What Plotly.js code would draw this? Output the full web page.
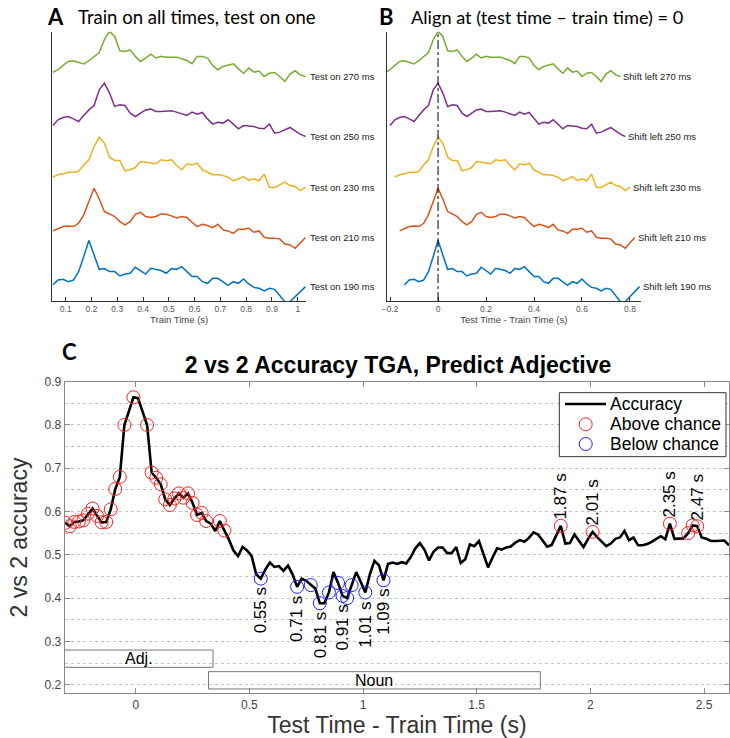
<!DOCTYPE html>
<html><head><meta charset="utf-8">
<script src="https://cdn.plot.ly/plotly-3.0.1.min.js"></script>
<style>html,body{margin:0;padding:0;background:#fff}#chart{width:730px;height:738px}</style>
</head><body><div id="chart"></div>
<script>
// ---------- Panel A / B data ----------
const trainTime = [0.05,0.07,0.09,0.11,0.13,0.15,0.17,0.19,0.21,0.23,0.25,0.27,0.29,0.31,0.33,0.35,0.37,0.39,0.41,0.43,0.45,0.47,0.49,0.51,0.53,0.55,0.57,0.59,0.61,0.63,0.65,0.67,0.69,0.71,0.73,0.75,0.77,0.79,0.81,0.83,0.85,0.87,0.89,0.91,0.93,0.95,0.97,0.99,1.01,1.03];
const testTimesMs = [190, 210, 230, 250, 270];
const acc190 = [.55,.583,.588,.572,.583,.639,.739,.846,.75,.654,.659,.639,.639,.61,.623,.628,.668,.646,.623,.661,.654,.646,.628,.659,.654,.672,.639,.606,.606,.572,.561,.594,.594,.572,.548,.572,.561,.59,.557,.534,.528,.51,.528,.521,.483,.439,.439,.472,.51,.539];
const acc210 = [.55,.563,.579,.583,.579,.601,.657,.746,.834,.763,.679,.663,.646,.612,.59,.612,.661,.674,.646,.639,.646,.663,.661,.65,.637,.646,.639,.608,.579,.594,.586,.572,.594,.557,.55,.534,.561,.561,.568,.541,.55,.508,.501,.501,.497,.463,.457,.434,.468,.506];
const acc230 = [.55,.566,.572,.583,.583,.588,.632,.666,.754,.817,.777,.683,.661,.661,.592,.599,.614,.654,.65,.643,.639,.666,.659,.666,.628,.599,.637,.632,.643,.599,.583,.566,.566,.561,.55,.526,.539,.554,.528,.539,.526,.57,.483,.481,.499,.517,.494,.488,.461,.483];
const acc250 = [.55,.588,.603,.61,.594,.577,.617,.654,.683,.788,.832,.766,.677,.688,.683,.632,.61,.632,.654,.659,.643,.643,.648,.648,.639,.626,.617,.639,.626,.637,.594,.559,.572,.566,.588,.559,.528,.55,.548,.543,.532,.528,.559,.499,.506,.521,.537,.514,.492,.477];
const acc270 = [.55,.568,.597,.623,.628,.617,.606,.628,.657,.683,.768,.823,.79,.694,.69,.701,.657,.623,.646,.672,.646,.657,.652,.652,.652,.641,.63,.608,.657,.657,.646,.597,.568,.59,.597,.608,.574,.545,.579,.552,.559,.523,.545,.55,.523,.49,.539,.561,.534,.523];

// ---------- Panel C data ----------
const diffTime = [-0.31,-0.29,-0.27,-0.25,-0.23,-0.21,-0.19,-0.17,-0.15,-0.13,-0.11,-0.09,-0.07,-0.05,-0.03,-0.01,0.01,0.03,0.05,0.07,0.09,0.11,0.13,0.15,0.17,0.19,0.21,0.23,0.25,0.27,0.29,0.31,0.33,0.35,0.37,0.39,0.41,0.43,0.45,0.47,0.49,0.51,0.53,0.55,0.57,0.59,0.61,0.63,0.65,0.67,0.69,0.71,0.73,0.75,0.77,0.79,0.81,0.83,0.85,0.87,0.89,0.91,0.93,0.95,0.97,0.99,1.01,1.03,1.05,1.07,1.09,1.11,1.13,1.15,1.17,1.19,1.21,1.23,1.25,1.27,1.29,1.31,1.33,1.35,1.37,1.39,1.41,1.43,1.45,1.47,1.49,1.51,1.53,1.55,1.57,1.59,1.61,1.63,1.65,1.67,1.69,1.71,1.73,1.75,1.77,1.79,1.81,1.83,1.85,1.87,1.89,1.91,1.93,1.95,1.97,1.99,2.01,2.03,2.05,2.07,2.09,2.11,2.13,2.15,2.17,2.19,2.21,2.23,2.25,2.27,2.29,2.31,2.33,2.35,2.37,2.39,2.41,2.43,2.45,2.47,2.49,2.51,2.53,2.55,2.57,2.59,2.61];
const accuracy = [0.574,0.566,0.576,0.577,0.58,0.595,0.607,0.59,0.575,0.576,0.605,0.652,0.68,0.80,0.83,0.864,0.862,0.83,0.80,0.69,0.678,0.663,0.628,0.615,0.63,0.642,0.632,0.642,0.62,0.592,0.597,0.578,0.572,0.555,0.578,0.556,0.535,0.51,0.497,0.518,0.51,0.497,0.455,0.445,0.466,0.482,0.472,0.474,0.463,0.475,0.455,0.426,0.445,0.44,0.43,0.422,0.388,0.388,0.413,0.46,0.435,0.405,0.40,0.43,0.46,0.437,0.413,0.455,0.486,0.476,0.441,0.479,0.482,0.479,0.483,0.48,0.495,0.515,0.527,0.512,0.487,0.507,0.517,0.517,0.504,0.504,0.518,0.481,0.49,0.524,0.52,0.532,0.5,0.471,0.494,0.515,0.512,0.517,0.519,0.528,0.534,0.53,0.539,0.552,0.547,0.532,0.519,0.523,0.545,0.567,0.526,0.527,0.547,0.533,0.518,0.537,0.553,0.541,0.53,0.52,0.526,0.537,0.54,0.555,0.534,0.54,0.522,0.522,0.525,0.53,0.537,0.543,0.536,0.572,0.537,0.537,0.538,0.55,0.568,0.566,0.54,0.537,0.532,0.532,0.533,0.533,0.522];
const aboveChanceTimes = [-0.31,-0.29,-0.27,-0.25,-0.23,-0.21,-0.19,-0.17,-0.15,-0.13,-0.11,-0.09,-0.07,-0.05,-0.01,0.05,0.07,0.09,0.11,0.13,0.15,0.17,0.19,0.21,0.23,0.25,0.27,0.29,0.31,0.37,0.39,1.87,2.01,2.35,2.43,2.45,2.47];
const belowChanceTimes = [0.55,0.71,0.77,0.81,0.85,0.89,0.91,0.93,0.95,1.01,1.09];
const aboveLabelTimes = [1.87,2.01,2.35,2.47];
const belowLabelTimes = [0.55,0.71,0.81,0.91,1.01,1.09];
const phaseNames = ['Adj.', 'Noun'];
const phaseStart = [-0.33, 0.32];
const phaseEnd = [0.34, 1.78];
const phaseLow = [0.24, 0.19];
const phaseHigh = [0.28, 0.23];
const legendNames = ['Accuracy', 'Above chance', 'Below chance'];

// ---------- styling ----------
const W = 730, H = 738;
const fx = p => p / W, fy = p => 1 - p / H;
const colors = ['#0072BD', '#D95319', '#EDB120', '#7E2F8E', '#77AC30'];
const series = [acc190, acc210, acc230, acc250, acc270];
const stackOffset = [16, 70, 123.7, 175.3, 228.3];
const stackScale = 150, stackBase = 0.55;
const sans = 'Liberation Sans, Arial, Helvetica, sans-serif';
const cal = 'Lato, Carlito, Calibri, sans-serif';
const redC = '#FF2020', blueC = '#2020FF';

const traces = [];
const annotations = [];
const shapes = [];
series.forEach((vals, i) => {
  const yy = vals.map(v => (v - stackBase) * stackScale + stackOffset[i]);
  const shift = testTimesMs[i] / 1000;
  traces.push({x: trainTime, y: yy, xaxis: 'x', yaxis: 'y', mode: 'lines', showlegend: false,
    line: {color: colors[i], width: 1.5}, hoverinfo: 'skip'});
  const xb = trainTime.map(t => +(t - shift).toFixed(3));
  traces.push({x: xb, y: yy, xaxis: 'x2', yaxis: 'y2', mode: 'lines', showlegend: false,
    line: {color: colors[i], width: 1.5}, hoverinfo: 'skip'});
  annotations.push({xref: 'x', yref: 'y', x: trainTime[trainTime.length - 1], y: yy[yy.length - 1],
    text: 'Test on ' + testTimesMs[i] + ' ms', showarrow: false, xanchor: 'left', xshift: 3,
    font: {family: sans, size: 9.5, color: '#222'}});
  annotations.push({xref: 'x2', yref: 'y2', x: xb[xb.length - 1], y: yy[yy.length - 1],
    text: 'Shift left ' + testTimesMs[i] + ' ms', showarrow: false, xanchor: 'left', xshift: 1,
    font: {family: sans, size: 9.5, color: '#222'}});
});

const pick = list => {
  const xs = [], ys = [];
  list.forEach(t => {
    const k = diffTime.findIndex(d => Math.abs(d - t) < 1e-6);
    if (k >= 0) { xs.push(diffTime[k]); ys.push(accuracy[k]); }
  });
  return {xs, ys};
};
traces.push({x: diffTime, y: accuracy, xaxis: 'x3', yaxis: 'y3', mode: 'lines', name: legendNames[0],
  showlegend: false, line: {color: '#000', width: 2.6}});
const ab = pick(aboveChanceTimes), be = pick(belowChanceTimes);
traces.push({x: ab.xs, y: ab.ys, xaxis: 'x3', yaxis: 'y3', mode: 'markers', name: legendNames[1],
  showlegend: false, marker: {symbol: 'circle-open', size: 13, color: redC, line: {width: 1}}});
traces.push({x: be.xs, y: be.ys, xaxis: 'x3', yaxis: 'y3', mode: 'markers', name: legendNames[2],
  showlegend: false, marker: {symbol: 'circle-open', size: 13, color: blueC, line: {width: 1}}});

const la = pick(aboveLabelTimes), lb = pick(belowLabelTimes);
la.xs.forEach((x, k) => annotations.push({xref: 'x3', yref: 'y3', x: x, y: la.ys[k],
  text: x.toFixed(2) + ' s', textangle: -90, showarrow: false, yanchor: 'bottom', yshift: 4,
  font: {family: sans, size: 17, color: '#000'}}));
lb.xs.forEach((x, k) => annotations.push({xref: 'x3', yref: 'y3', x: x, y: lb.ys[k],
  text: x.toFixed(2) + ' s', textangle: -90, showarrow: false, yanchor: 'top', yshift: -7,
  font: {family: sans, size: 17, color: '#000'}}));

phaseNames.forEach((nm, i) => {
  shapes.push({type: 'rect', xref: 'x3', yref: 'y3', x0: phaseStart[i], x1: phaseEnd[i],
    y0: phaseLow[i], y1: phaseHigh[i], line: {color: '#777', width: 1}, fillcolor: 'rgba(0,0,0,0)'});
  annotations.push({xref: 'x3', yref: 'y3', x: (Math.max(phaseStart[i], -0.3125) + phaseEnd[i]) / 2,
    y: (phaseLow[i] + phaseHigh[i]) / 2, text: nm, showarrow: false,
    font: {family: sans, size: 16, color: '#000'}});
});
shapes.push({type: 'line', xref: 'x2', yref: 'y2 domain', x0: 0, x1: 0, y0: 0, y1: 1,
  line: {color: '#000', width: 1, dash: 'dashdot'}});

// legend box for panel C (compact MATLAB-style)
const lgL = 559.3, lgR = 726, lgT = 392.7, lgB = 456.7, rowY = [404, 424.3, 444], symX = 585.7, txtX = 608;
shapes.push({type: 'rect', xref: 'paper', yref: 'paper', x0: fx(lgL), x1: fx(lgR), y0: fy(lgB), y1: fy(lgT),
  line: {color: '#333', width: 1}, fillcolor: '#fff', layer: 'above'});
shapes.push({type: 'line', xref: 'paper', yref: 'paper', x0: fx(565), x1: fx(606), y0: fy(rowY[0]), y1: fy(rowY[0]),
  line: {color: '#000', width: 2.6}, layer: 'above'});
[redC, blueC].forEach((c, k) => shapes.push({type: 'circle', xref: 'paper', yref: 'paper',
  xsizemode: 'pixel', ysizemode: 'pixel', xanchor: fx(symX), yanchor: fy(rowY[k + 1]),
  x0: -6.5, x1: 6.5, y0: -6.5, y1: 6.5, line: {color: c, width: 1}, layer: 'above'}));
legendNames.forEach((nm, k) => annotations.push({xref: 'paper', yref: 'paper', x: fx(txtX), y: fy(rowY[k]),
  text: nm, showarrow: false, xanchor: 'left', yanchor: 'middle', font: {family: sans, size: 17.5, color: '#000'}}));

// panel letters and titles
const hdr = (txt, px, py, font) => annotations.push({xref: 'paper', yref: 'paper', x: fx(px), y: fy(py),
  text: txt, showarrow: false, xanchor: 'left', yanchor: 'middle', font: font});
hdr('<b>A</b>', 45, 17, {family: cal, size: 22, color: '#000'});
hdr('Train on all times, test on one', 76, 17, {family: cal, size: 18.5, color: '#000'});
hdr('<b>B</b>', 377, 17, {family: cal, size: 22, color: '#000'});
hdr('Align at (test time \u2013 train time) = 0', 409, 17, {family: cal, size: 18.2, color: '#000'});
hdr('<b>C</b>', 60, 352, {family: cal, size: 22, color: '#000'});

const smallAxis = {showline: true, linecolor: '#333', linewidth: 1, ticks: 'inside', ticklen: 4,
  tickcolor: '#333', showgrid: false, zeroline: false, tickfont: {family: sans, size: 8.5, color: '#555'}};
const hiddenY = {showline: true, linecolor: '#333', linewidth: 1, ticks: '', showticklabels: false,
  showgrid: false, zeroline: false, range: [0, 269]};

const layout = {
  width: W, height: H, margin: {l: 0, r: 0, t: 0, b: 0}, paper_bgcolor: '#fff', plot_bgcolor: 'rgba(0,0,0,0)',
  showlegend: false,
  title: {text: '2 vs 2 Accuracy TGA, Predict Adjective', x: fx(398), xanchor: 'center', xref: 'paper',
    y: fy(365), yanchor: 'middle', yref: 'paper', font: {family: sans, size: 23, weight: 700, color: '#000'}},
  xaxis: Object.assign({}, smallAxis, {domain: [fx(52.3), fx(306)], range: [0.048, 1.032], dtick: 0.1, tick0: 0,
    anchor: 'y', title: {text: 'Train Time (s)', standoff: 2, font: {family: sans, size: 9.5, color: '#444'}}}),
  yaxis: Object.assign({}, hiddenY, {domain: [fy(301), fy(31.7)], anchor: 'x'}),
  xaxis2: Object.assign({}, smallAxis, {domain: [fx(386.7), fx(641)], range: [-0.214, 0.846], dtick: 0.2, tick0: 0,
    anchor: 'y2', title: {text: 'Test Time - Train Time (s)', standoff: 2, font: {family: sans, size: 9.5, color: '#444'}}}),
  yaxis2: Object.assign({}, hiddenY, {domain: [fy(301), fy(31.7)], anchor: 'x2'}),
  xaxis3: {domain: [fx(64.7), fx(729)], range: [-0.3125, 2.61], dtick: 0.5, tick0: 0, anchor: 'y3',
    showline: true, mirror: 'ticks', linecolor: '#888', linewidth: 1, ticks: 'inside', ticklen: 5, tickcolor: '#888',
    showgrid: false, zeroline: false, tickfont: {family: sans, size: 12, color: '#444'},
    title: {text: 'Test Time - Train Time (s)', standoff: 8, font: {family: sans, size: 23, color: '#333'}}},
  yaxis3: {domain: [fy(693.3), fy(381.7)], range: [0.18, 0.9], dtick: 0.1, tick0: 0, anchor: 'x3',
    showline: true, mirror: 'ticks', linecolor: '#888', linewidth: 1, ticks: 'inside', ticklen: 5, tickcolor: '#888',
    showgrid: true, gridcolor: '#c4c4c4', griddash: 'dot', gridwidth: 1, zeroline: false,
    minor: {dtick: 0.05, showgrid: true, gridcolor: '#c4c4c4', griddash: 'dot', gridwidth: 1},
    tickfont: {family: sans, size: 12, color: '#444'},
    title: {text: '2 vs 2 accuracy', standoff: 10, font: {family: sans, size: 23, color: '#333'}}},
  annotations: annotations, shapes: shapes
};
Plotly.newPlot('chart', traces, layout, {staticPlot: true, displayModeBar: false});
</script></body></html>
